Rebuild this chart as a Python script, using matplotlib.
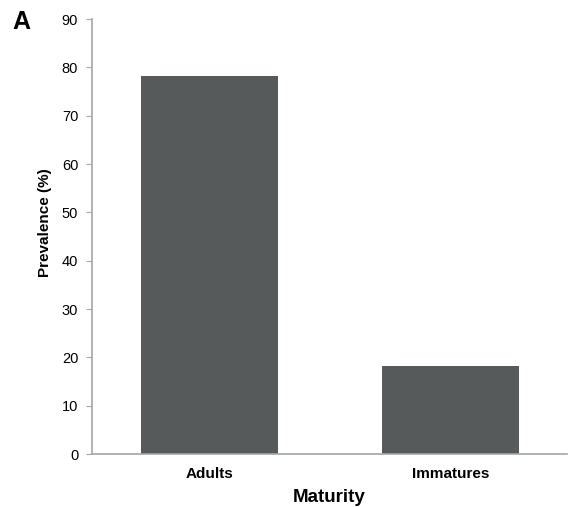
import matplotlib
matplotlib.use('Agg')
import matplotlib.pyplot as plt

categories = ['Adults', 'Immatures']
prevalence = [78.3, 18.2]
y_ticks = [0, 10, 20, 30, 40, 50, 60, 70, 80, 90]

plt.rcParams['font.family'] = ['Liberation Sans', 'DejaVu Sans']

fig = plt.figure(figsize=(5.68, 5.07), dpi=100)
ax = fig.add_axes([0.162, 0.1045, 0.836, 0.858])

ax.bar(range(len(categories)), prevalence, width=0.568, color='#575a5a', zorder=2)

ax.set_xlim(-0.4876, 1.483)
ax.set_ylim(0, 90)
ax.set_yticks(y_ticks)
ax.set_xticks(range(len(categories)))
ax.set_xticklabels(categories, fontweight='bold', fontsize=11)

axis_grey = '#a6a6a6'
for side in ['top', 'right']:
    ax.spines[side].set_visible(False)
ax.spines['left'].set_color(axis_grey)
ax.spines['bottom'].set_color(axis_grey)
ax.spines['left'].set_linewidth(1.2)
ax.spines['bottom'].set_linewidth(1.2)
ax.tick_params(axis='y', colors=axis_grey, labelcolor='black', length=4, labelsize=10.5, pad=6)
ax.tick_params(axis='x', length=0, labelcolor='black', pad=9)

ax.set_ylabel('Prevalence (%)', fontweight='bold', fontsize=11)
ax.yaxis.set_label_coords(-0.084, 0.531)
ax.set_xlabel('Maturity', fontweight='bold', fontsize=13.5, labelpad=6)

fig.text(0.022, 0.942, 'A', fontweight='bold', fontsize=18)

fig.savefig('out.png', dpi=100)
